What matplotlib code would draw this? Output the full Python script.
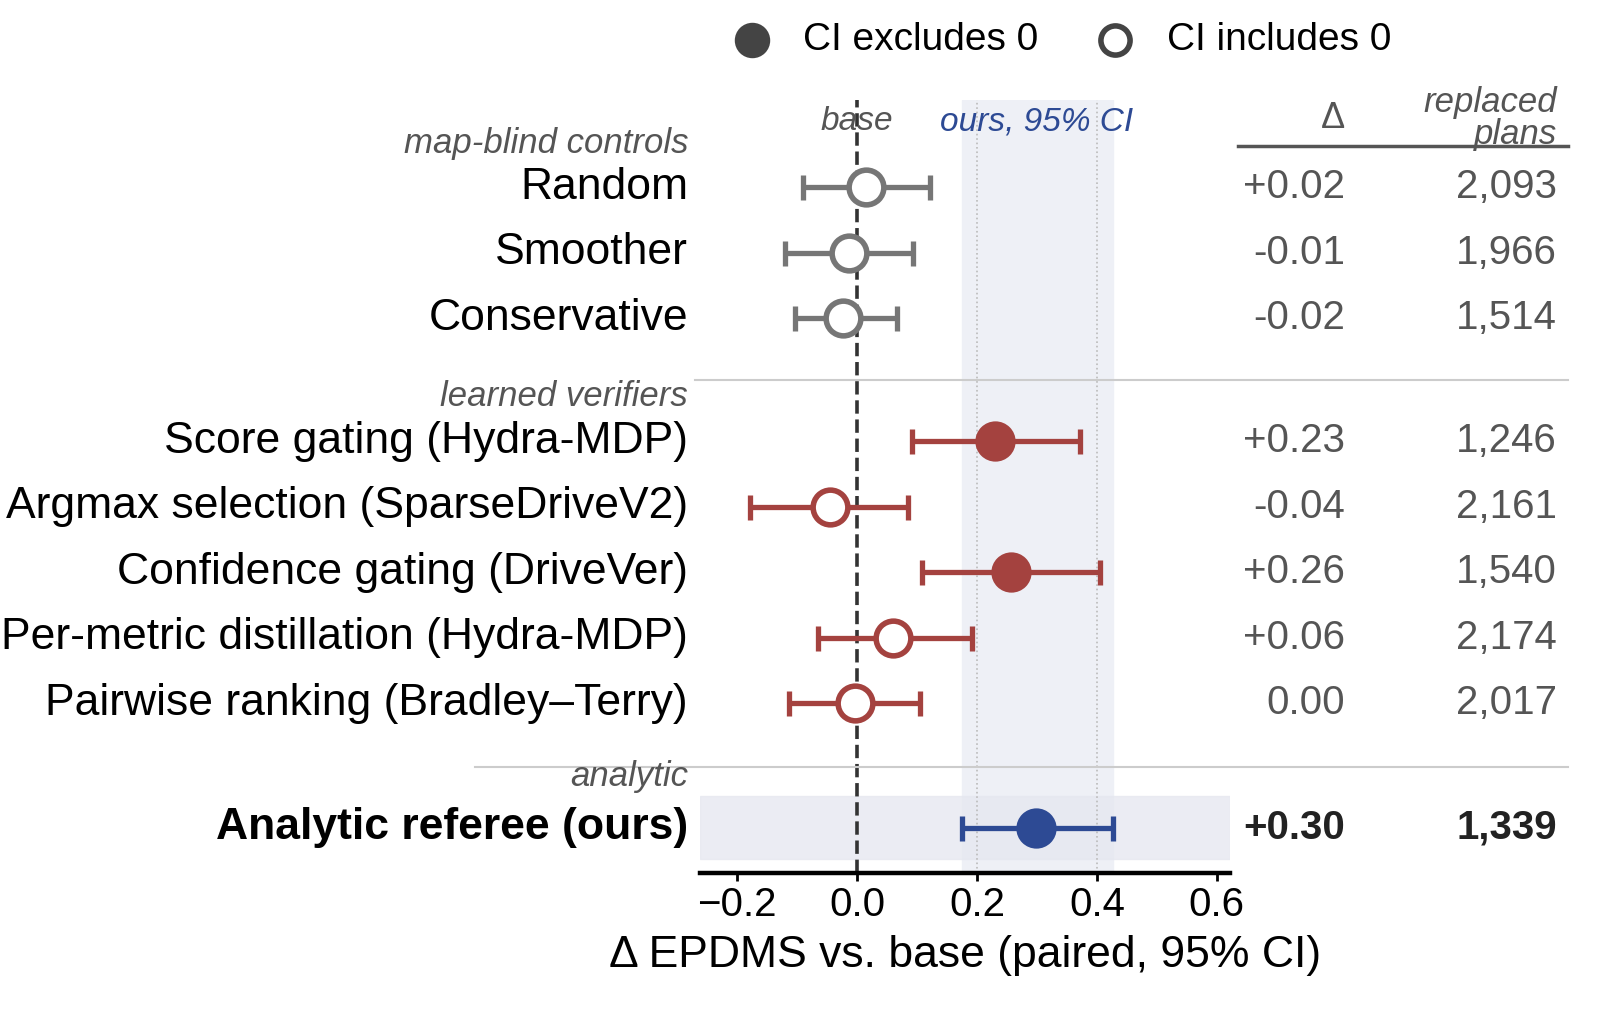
import matplotlib
matplotlib.use('Agg')
import matplotlib.pyplot as plt
from matplotlib.transforms import blended_transform_factory as blend
from matplotlib.lines import Line2D

plt.rcParams['font.family'] = ['Liberation Sans', 'DejaVu Sans']

labels = ['Random', 'Smoother', 'Conservative',
          'Score gating (Hydra-MDP)', 'Argmax selection (SparseDriveV2)',
          'Confidence gating (DriveVer)', 'Per-metric distillation (Hydra-MDP)',
          'Pairwise ranking (Bradley\u2013Terry)', 'Analytic referee (ours)']
ypos = [0, 1, 2, 3.88, 4.88, 5.88, 6.88, 7.88, 9.78]
est = [0.015, -0.013, -0.023, 0.23, -0.045, 0.257, 0.06, -0.003, 0.298]
lo = [-0.09, -0.12, -0.103, 0.092, -0.178, 0.108, -0.065, -0.113, 0.175]
hi = [0.122, 0.093, 0.067, 0.372, 0.085, 0.405, 0.192, 0.105, 0.427]
excl = [False, False, False, True, False, True, False, False, True]
delta_txt = ['+0.02', '-0.01', '-0.02', '+0.23', '-0.04', '+0.26', '+0.06', '0.00', '+0.30']
plans_txt = ['2,093', '1,966', '1,514', '1,246', '2,161', '1,540', '2,174', '2,017', '1,339']
groups = ['gray'] * 3 + ['red'] * 5 + ['blue']
group_labels = [('map-blind controls', -0.67), ('learned verifiers', 3.2), ('analytic', 9.0)]

COL = {'gray': '#767676', 'red': '#a4423f', 'blue': '#2d4a94'}

fig = plt.figure(figsize=(16, 10.26), dpi=100)
ax = fig.add_axes([700 / 1600, 1 - 873 / 1026, 530 / 1600, 773 / 1026])
ax.set_xlim(-0.262, 0.622)
ax.set_ylim(10.47, -1.33)

# CI band of ours + guide lines
ax.axvspan(0.175, 0.427, color='#eef0f6', zorder=0)
for v in (0.2, 0.4):
    ax.axvline(v, color='#bbbbbb', ls=':', lw=1.2, zorder=1)
ax.axvline(0, color='#333333', ls='--', lw=2.6, zorder=2)
ax.axhspan(9.78 - 0.48, 9.78 + 0.48, color='#e6e8f0', alpha=0.8, zorder=0.5)

for y, e, l, h, x, g in zip(ypos, est, lo, hi, excl, groups):
    c = COL[g]
    ax.errorbar(e, y, xerr=[[e - l], [h - e]], fmt='none', ecolor=c,
                elinewidth=3.8, capsize=9, capthick=3.8, zorder=3)
    ax.plot(e, y, 'o', ms=25, mfc=c if x else 'white', mec=c, mew=4, zorder=4)

ax.text(0, -1.0, 'base', ha='center', va='center', fontsize=24,
        style='italic', color='#555555')
ax.text(0.3, -1.0, 'ours, 95% CI', ha='center', va='center', fontsize=24,
        style='italic', color=COL['blue'])

for s in ('top', 'right', 'left'):
    ax.spines[s].set_visible(False)
ax.spines['bottom'].set_linewidth(3.2)
ax.set_yticks([])
ax.set_xticks([-0.2, 0.0, 0.2, 0.4, 0.6])
ax.set_xticklabels(['\u22120.2', '0.0', '0.2', '0.4', '0.6'])
ax.tick_params(axis='x', labelsize=29, width=2, length=6)
ax.set_xlabel('\u0394 EPDMS vs. base (paired, 95% CI)', fontsize=32, labelpad=8)

tr = blend(fig.transFigure, ax.transData)
for y, lab, d, p, g in zip(ypos, labels, delta_txt, plans_txt, groups):
    bold = g == 'blue'
    w = 'bold' if bold else 'normal'
    ax.text(688 / 1600, y, lab, transform=tr, ha='right', va='center',
            fontsize=32, fontweight=w, color='black')
    ax.text(1345 / 1600, y, d, transform=tr, ha='right', va='center',
            fontsize=29, fontweight=w, color='#222222' if bold else '#555555')
    ax.text(1557 / 1600, y, p, transform=tr, ha='right', va='center',
            fontsize=29, fontweight=w, color='#222222' if bold else '#555555')
for lab, y in group_labels:
    ax.text(688 / 1600, y, lab, transform=tr, ha='right', va='center',
            fontsize=25, style='italic', color='#555555')

ax.text(1345 / 1600, -1.05, '\u0394', transform=tr, ha='right', va='center',
        fontsize=26, color='#555555')
ax.text(1557 / 1600, -1.05, 'replaced\nplans', transform=tr, ha='right',
        va='center', fontsize=25, style='italic', color='#555555', linespacing=0.95)

# separators
for x0, y in ((1238, -0.63), (695, 2.94), (475, 8.85)):
    lw, c = (2.5, '#555555') if y < 0 else (1.5, '#cccccc')
    ax.add_line(Line2D([x0 / 1600, 1568 / 1600], [y, y], transform=tr,
                       color=c, lw=lw, clip_on=False))

# legend
fig.add_artist(Line2D([752 / 1600], [1 - 40 / 1026], marker='o', ms=22,
                      mfc='#444444', mec='#444444', mew=3.5, transform=fig.transFigure))
fig.text(803 / 1600, 1 - 40 / 1026, 'CI excludes 0', fontsize=28, va='center')
fig.add_artist(Line2D([1115 / 1600], [1 - 40 / 1026], marker='o', ms=21,
                      mfc='white', mec='#444444', mew=4, transform=fig.transFigure))
fig.text(1167 / 1600, 1 - 40 / 1026, 'CI includes 0', fontsize=28, va='center')

fig.savefig('out.png', dpi=100)
